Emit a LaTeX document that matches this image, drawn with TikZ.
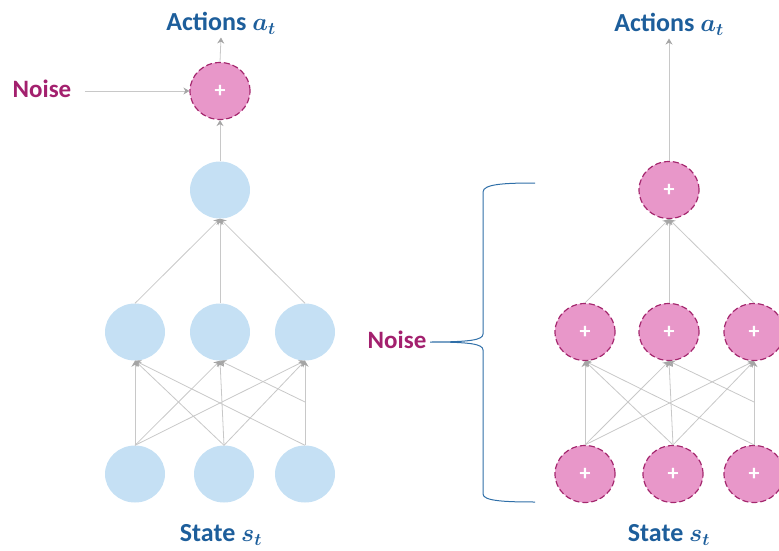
\documentclass[tikz,border=0pt]{standalone}
\usepackage{fontspec}
\setmainfont{Carlito}
\usepackage{bm}
\usetikzlibrary{arrows.meta, shapes.geometric, positioning, calc}

\definecolor{unitblue}{HTML}{C5E0F4}
\definecolor{noisefill}{HTML}{E897C9}
\definecolor{noisedraw}{HTML}{A4276E}
\definecolor{labelblue}{HTML}{1D5E9B}
\definecolor{noisetext}{HTML}{A3206E}
\definecolor{wiregray}{HTML}{C8C8C8}
\definecolor{tipgray}{HTML}{A5A5A5}
\definecolor{braceblue}{HTML}{2F6FA8}

\tikzset{
  unit/.style={ellipse, minimum width=60pt, minimum height=57pt, inner sep=0pt},
  plain/.style={unit, fill=unitblue},
  noisy/.style={unit, fill=noisefill, draw=noisedraw, line width=1.2pt,
    dash pattern=on 6pt off 3pt, text=white, font=\bfseries\fontsize{22}{22}\selectfont},
  wire/.style={draw=wiregray, line width=0.8pt,
    -{Stealth[color=tipgray, length=6pt, width=7pt]}},
  title/.style={text=labelblue, font=\bfseries\fontsize{26}{30}\selectfont},
  noiselabel/.style={text=noisetext, font=\bfseries\fontsize{25}{30}\selectfont}
}

\begin{document}
\begin{tikzpicture}[x=1pt, y=-1pt]
      \useasboundingbox (0,0) rectangle (779,551);

      % left network
      \node[plain] (in1) at (135, 474) {};
      \node[plain] (in2) at (224, 474) {};
      \node[plain] (in3) at (305, 474) {};
      \node[plain] (hid1) at (135, 332) {};
      \node[plain] (hid2) at (220, 332) {};
      \node[plain] (hid3) at (305, 332) {};
      \node[plain] (hid4) at (220, 190) {};
      \node[noisy] (out) at (220, 91) {+};
      \node[title] (act) at (221, 23) {Actions $\bm{a_t}$};
      \node[title] (state) at (221, 535) {State $\bm{s_t}$};
      \node[noiselabel] (noise) at (42, 89) {Noise};
      \coordinate (cut) at (305, 402);

      \foreach \i in {1,2,3} {
        \draw[wire] (in1.north) -- (hid\i.south);
        \draw[wire] (in2.north) -- (hid\i.south);
        \draw[wire] (hid\i.north) -- (hid4.south);
      }
      \draw[wire] (in3.north) -- (hid1.south);
      \draw[wire] (in3.north) -- (hid3.south);
      \draw[wire] (cut) -- (hid2.south);
      \draw[wire] (hid4.north) -- (out.south);
      \draw[wire] (out.north) -- (act.south);
      \draw[wire] ($(noise.east)+(10,2)$) -- (out.west);

      % right network
      \node[noisy] (rin1) at (585, 474) {+};
      \node[noisy] (rin2) at (673, 474) {+};
      \node[noisy] (rin3) at (754, 474) {+};
      \node[noisy] (rhid1) at (585, 332) {+};
      \node[noisy] (rhid2) at (669, 332) {+};
      \node[noisy] (rhid3) at (754, 332) {+};
      \node[noisy] (rout) at (669, 190) {+};
      \node[title] (ract) at (669, 24) {Actions $\bm{a_t}$};
      \node[title] (rstate) at (669, 535) {State $\bm{s_t}$};
      \node[noiselabel] (rnoise) at (397, 340) {Noise};
      \coordinate (rcut) at (754, 402);

      \foreach \i in {1,2,3} {
        \draw[wire] (rin1.north) -- (rhid\i.south);
        \draw[wire] (rin2.north) -- (rhid\i.south);
        \draw[wire] (rhid\i.north) -- (rout.south);
      }
      \draw[wire] (rin3.north) -- (rhid1.south);
      \draw[wire] (rin3.north) -- (rhid3.south);
      \draw[wire] (rcut) -- (rhid2.south);
      \draw[wire] (rout.north) -- (ract.south);

      % brace
      \draw[braceblue, line width=1pt]
        (535, 183) .. controls (505, 183) and (483, 184) .. (483, 192)
        -- (483, 334) .. controls (483, 340) and (470, 342) .. (430, 342)
        .. controls (470, 342) and (483, 344) .. (483, 350)
        -- (483, 494) .. controls (483, 501) and (505, 502) .. (535, 502);
    \end{tikzpicture}
\end{document}
